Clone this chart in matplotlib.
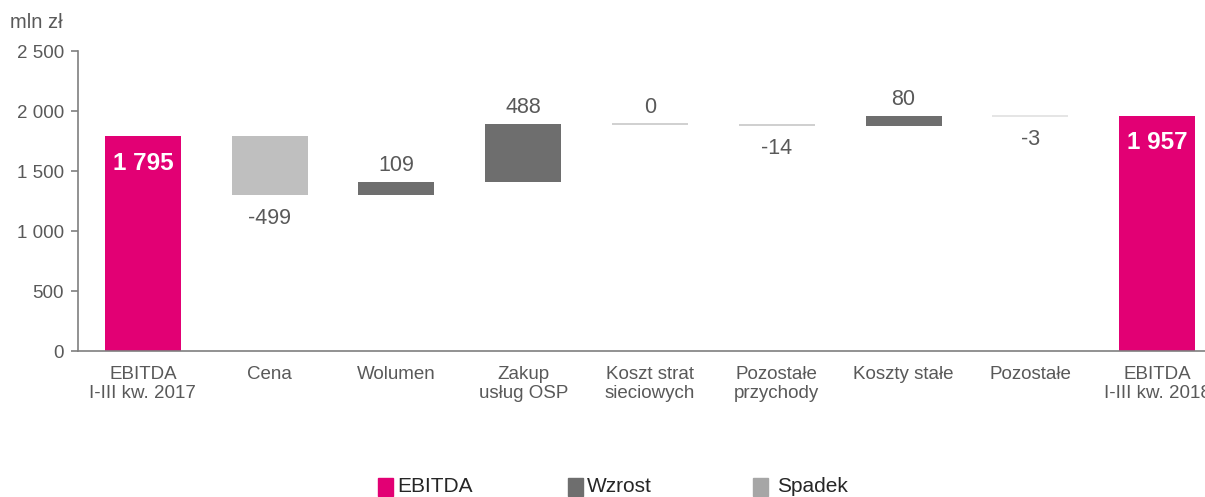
import matplotlib
matplotlib.use("Agg")
import matplotlib.pyplot as plt
from matplotlib.patches import Rectangle

plt.rcParams['font.family'] = ['Liberation Sans', 'DejaVu Sans']

categories = ["EBITDA\nI-III kw. 2017", "Cena", "Wolumen", "Zakup\nusług OSP",
              "Koszt strat\nsieciowych", "Pozostałe\nprzychody", "Koszty stałe",
              "Pozostałe", "EBITDA\nI-III kw. 2018"]
start_value = 1795
deltas = [-499, 109, 488, 0, -14, 80, -3]
end_value = 1957
yticks = [0, 500, 1000, 1500, 2000, 2500]
ytick_labels = ["0", "500", "1 000", "1 500", "2 000", "2 500"]
legend_labels = ["EBITDA", "Wzrost", "Spadek"]

C_EBITDA = "#E20074"
C_UP = "#6E6E6E"
C_DOWN = "#BFBFBF"
C_DOWN_LEG = "#A6A6A6"
C_TXT = "#595959"

fig = plt.figure(figsize=(12.05, 4.97), dpi=100)
ax = fig.add_axes([78 / 1205, 146 / 497, 1127 / 1205, 300 / 497])

w = 0.6
# start bar
ax.bar(0, start_value, width=w, color=C_EBITDA)
ax.text(0, start_value - 235, "1 795", ha="center", va="center", color="white",
        fontsize=17.5, fontweight="bold")

level = start_value
for i, d in enumerate(deltas, start=1):
    lo = min(level, level + d)
    h = abs(d)
    col = C_UP if d > 0 else C_DOWN
    if h >= 20:
        ax.bar(i, h, bottom=lo, width=w, color=col)
    else:
        ax.hlines(level + d / 2, i - w / 2, i + w / 2, color="#C8C8C8" if d != -3 else "#E0E0E0",
                  linewidth=max(1.2, h * 0.12 * 0.72))
    lab = str(d)
    if d >= 0:
        ax.text(i, max(level, level + d) + 140, lab, ha="center", va="center",
                color=C_TXT, fontsize=15.5)
    else:
        ax.text(i, min(level, level + d) - 195, lab, ha="center", va="center",
                color=C_TXT, fontsize=15.5)
    level += d

n = len(categories) - 1
ax.bar(n, end_value, width=w, color=C_EBITDA)
ax.text(n, end_value - 220, "1 957", ha="center", va="center", color="white",
        fontsize=17.5, fontweight="bold")

ax.set_xlim(-0.512, 8.378)
ax.set_ylim(0, 2500)
ax.set_yticks(yticks)
ax.set_yticklabels(ytick_labels, color=C_TXT, fontsize=13.5)
ax.set_xticks(range(len(categories)))
ax.set_xticklabels(categories, color=C_TXT, fontsize=13.5, linespacing=1.17)
ax.tick_params(axis="x", length=0, pad=11)
ax.tick_params(axis="y", length=5, width=1.2, color="#7F7F7F", pad=5)
for s in ["top", "right"]:
    ax.spines[s].set_visible(False)
for s in ["left", "bottom"]:
    ax.spines[s].set_color("#7F7F7F")
    ax.spines[s].set_linewidth(1.2)

fig.text(10 / 1205, 1 - 22 / 497, "mln zł", color=C_TXT, fontsize=14.5, va="center", ha="left")

# legend
leg_items = [(378, 397, C_EBITDA), (568, 587, C_UP), (753, 777, C_DOWN_LEG)]
for (x0, xt, c), lab in zip(leg_items, legend_labels):
    fig.add_artist(Rectangle((x0 / 1205, 1 - 496 / 497), 15 / 1205, 18 / 497,
                             transform=fig.transFigure, color=c, clip_on=False))
    fig.text(xt / 1205, 1 - 487 / 497, lab, color="#262626", fontsize=15,
             va="center", ha="left")

fig.savefig("out.png", dpi=100)
